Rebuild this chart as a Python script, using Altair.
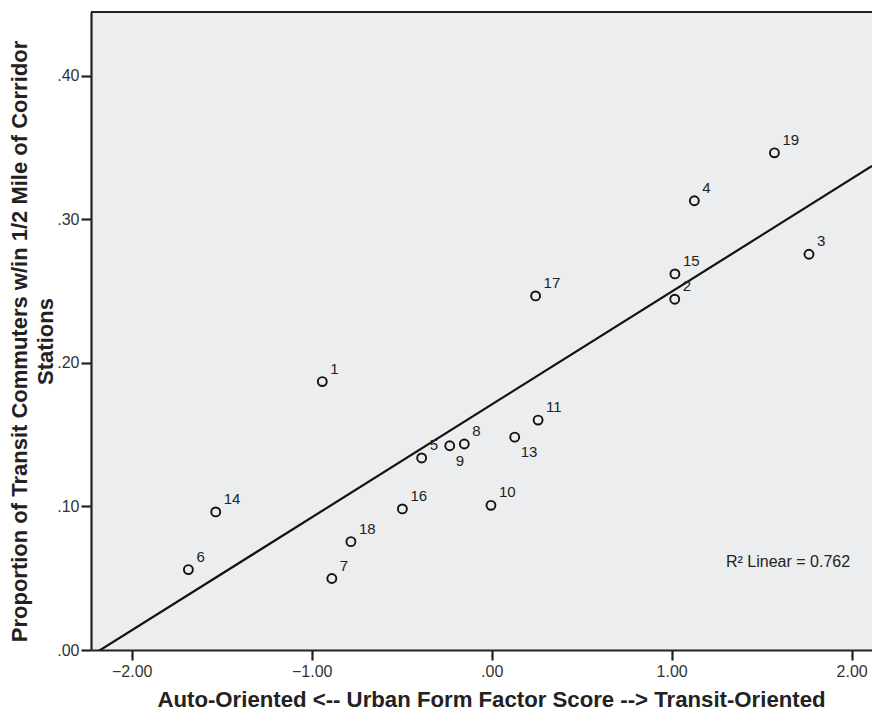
import altair as alt
import pandas as pd

ids = ["1", "2", "3", "4", "5", "6", "7", "8", "9", "10", "11", "13", "14", "15", "16", "17", "18", "19"]
urban_form = [-0.941, 1.017, 1.763, 1.126, -0.389, -1.685, -0.888, -0.152, -0.233, -0.004,
              0.258, 0.128, -1.533, 1.018, -0.496, 0.244, -0.782, 1.571]
transit_share = [0.187, 0.2444, 0.2757, 0.313, 0.1338, 0.056, 0.0498, 0.1435, 0.1423, 0.1008,
                 0.1602, 0.1483, 0.0962, 0.2620, 0.0983, 0.2467, 0.0755, 0.3464]
below_labels = ["9", "13"]
r2_text = ["R\u00b2 Linear = 0.762"]

df = pd.DataFrame({"id": ids, "x": urban_form, "y": transit_share})

FONT = "Liberation Sans"
x_dom = [-2.226, 2.113]
y_dom = [0, 0.4445]
W, H = 781, 638

xs = alt.Scale(domain=x_dom, nice=False, zero=False)
ys = alt.Scale(domain=y_dom, nice=False, zero=False)

xaxis = alt.Axis(
    title="Auto-Oriented <-- Urban Form Factor Score --> Transit-Oriented",
    values=[-2, -1, 0, 1, 2],
    labelExpr="replace(format(datum.value, '.2f'), /^0\\./, '.')",
    grid=False, domainColor="#222222", domainWidth=2.2, tickColor="#222222", tickWidth=2.2,
    tickSize=10, labelFont=FONT, labelFontSize=16, labelColor="#333333", labelPadding=3,
    titleFont=FONT, titleFontSize=22.2, titleFontWeight="bold", titleColor="#222222",
    titleBaseline="alphabetic", titleY=56, titleX=400,
)
yaxis = alt.Axis(
    title=["Proportion of Transit Commuters w/in 1/2 Mile of Corridor", "Stations"],
    values=[0, 0.1, 0.2, 0.3, 0.4],
    labelExpr="replace(format(datum.value, '.2f'), /^0\\./, '.')",
    grid=False, domainColor="#222222", domainWidth=2.2, tickColor="#222222", tickWidth=2.2,
    tickSize=10, labelFont=FONT, labelFontSize=16, labelColor="#333333", labelPadding=2,
    titleFont=FONT, titleFontSize=22, titleFontWeight="bold", titleColor="#222222",
    titleBaseline="alphabetic", titleX=-65, titleY=H / 2 + 10, titleLineHeight=26.5,
)

base = alt.Chart(df)

line = base.transform_regression("x", "y", extent=x_dom).mark_line(
    color="#111111", strokeWidth=2.2, clip=True
).encode(
    x=alt.X("x:Q", scale=xs, axis=xaxis),
    y=alt.Y("y:Q", scale=ys, axis=yaxis),
)

topline = alt.Chart(pd.DataFrame({"k": [0]})).mark_rule(
    color="#222222", strokeWidth=2.2
).encode(x=alt.value(0), x2=alt.value(W), y=alt.value(0))

points = base.mark_point(shape="circle", filled=False, size=80, strokeWidth=1.9,
                         color="#111111", opacity=1).encode(
    x=alt.X("x:Q", scale=xs),
    y=alt.Y("y:Q", scale=ys),
)

labels_up = base.transform_filter(
    ~alt.FieldOneOfPredicate(field="id", oneOf=below_labels)
).mark_text(align="left", baseline="middle", dx=8, dy=-13, font=FONT, fontSize=15,
            color="#222222").encode(
    x=alt.X("x:Q", scale=xs), y=alt.Y("y:Q", scale=ys), text="id:N"
)

labels_down = base.transform_filter(
    alt.FieldOneOfPredicate(field="id", oneOf=below_labels)
).mark_text(align="left", baseline="middle", dx=6, dy=15, font=FONT, fontSize=15,
            color="#222222").encode(
    x=alt.X("x:Q", scale=xs), y=alt.Y("y:Q", scale=ys), text="id:N"
)

r2 = alt.Chart(pd.DataFrame({"t": r2_text})).mark_text(
    align="left", baseline="middle", font=FONT, fontSize=16, color="#222222"
).encode(x=alt.value(635), y=alt.value(550), text="t:N")

chart = alt.layer(line, topline, points, labels_up, labels_down, r2).properties(
    width=W, height=H,
    autosize=alt.AutoSizeParams(type="none"),
    padding={"left": 83, "top": 4, "right": 0, "bottom": 65},
    background="white",
).configure_view(fill="#ECEDEF", stroke=None)

chart.save("out.html", embed_options={"renderer": "svg", "actions": False})
